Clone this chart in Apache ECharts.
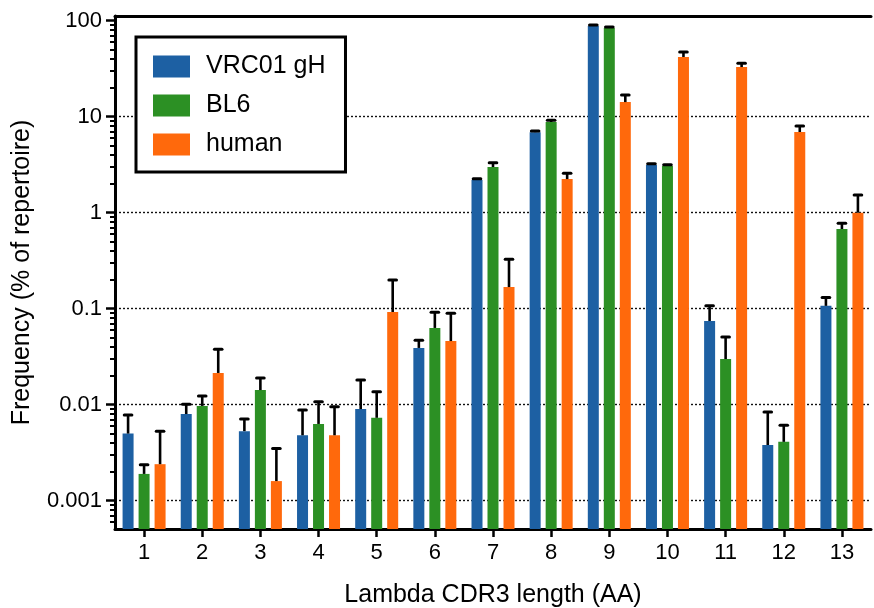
<!DOCTYPE html>
<html>
<head>
<meta charset="utf-8">
<script src="https://cdn.jsdelivr.net/npm/echarts@6/dist/echarts.min.js"></script>
<style>
html,body{margin:0;padding:0;background:#fff;}
#chart{width:874px;height:608px;}
</style>
</head>
<body>
<div id="chart"></div>
<script>
// ---- data ----
const categories = ['1','2','3','4','5','6','7','8','9','10','11','12','13'];
const seriesNames = ['VRC01 gH','BL6','human'];
const vrc01 = [0.0050, 0.0080, 0.0053, 0.0048, 0.0090, 0.039, 2.19, 6.9, 88, 3.14, 0.0745, 0.0038, 0.107];
const vrc01Err = [0.0028, 0.0021, 0.0018, 0.0040, 0.0091, 0.008, 0.07, 0.2, 2, 0.1, 0.0325, 0.0046, 0.024];
const bl6 = [0.0019, 0.0097, 0.0142, 0.0063, 0.0073, 0.063, 2.99, 8.8, 84, 3.07, 0.0299, 0.0041, 0.676];
const bl6Err = [0.00047, 0.0026, 0.0048, 0.0044, 0.0063, 0.029, 0.32, 0.4, 2, 0.08, 0.0208, 0.002, 0.1];
const human = [0.0024, 0.0214, 0.0016, 0.0048, 0.0924, 0.046, 0.168, 2.24, 14.2, 41.9, 32.9, 6.93, 1.0];
const humanErr = [0.0029, 0.0164, 0.0019, 0.0047, 0.107, 0.0436, 0.159, 0.33, 2.6, 5.3, 3.1, 1.07, 0.53];
const majorTickLabels = ['0.001','0.01','0.1','1','10','100'];

// ---- layout / style ----
const yMinLog = -3.295, yMaxLog = 2.049;
const yMin = Math.pow(10, yMinLog), yMax = Math.pow(10, yMaxLog);
const colors = ['#1d60a3', '#2c9024', '#ff690c'];
const barWidth = 11, barGapPx = 5;
const gridLeft = 115, gridRight = 3, chartW = 874;
const fontFamily = '"Liberation Sans", Arial, Helvetica, sans-serif';

const majorLog = majorTickLabels.map(t => Math.log10(parseFloat(t)));
const minorLog = [];
for (let e = -4; e <= 1; e++) {
  for (let k = 2; k <= 9; k++) {
    const v = Math.log10(k) + e;
    if (v > yMinLog && v < yMaxLog) minorLog.push(v);
  }
}

const valueSets = [vrc01, bl6, human];
const errSets = [vrc01Err, bl6Err, humanErr];

const barSeries = valueSets.map((vals, si) => ({
  name: seriesNames[si],
  type: 'bar',
  xAxisIndex: 0,
  yAxisIndex: 0,
  barWidth: barWidth,
  barGap: (barGapPx / barWidth * 100) + '%',
  itemStyle: { color: colors[si] },
  z: 2,
  data: vals
}));

const errSeries = valueSets.map((vals, si) => ({
  type: 'custom',
  xAxisIndex: 0,
  yAxisIndex: 0,
  z: 3,
  silent: true,
  data: vals.map((v, i) => [i, v, v + errSets[si][i]]),
  renderItem: function (params, api) {
    const offset = (si - 1) * (barWidth + barGapPx);
    const p0 = api.coord([api.value(0), api.value(1)]);
    const p1 = api.coord([api.value(0), api.value(2)]);
    const x = p0[0] + offset;
    return {
      type: 'group',
      children: [
        { type: 'line', shape: { x1: x, y1: p0[1], x2: x, y2: p1[1] },
          style: { stroke: '#000', lineWidth: 2.6 } },
        { type: 'line', shape: { x1: x - 3.8, y1: p1[1], x2: x + 3.8, y2: p1[1] },
          style: { stroke: '#000', lineWidth: 3, lineCap: 'round' } }
      ]
    };
  }
}));

const chart = echarts.init(document.getElementById('chart'), null, { renderer: 'canvas' });
chart.setOption({
  animation: false,
  backgroundColor: '#fff',
  textStyle: { fontFamily: fontFamily },
  grid: { left: gridLeft, right: gridRight, top: 16, bottom: 79, containLabel: false, outerBoundsMode: 'none' },
  legend: {
    data: seriesNames,
    orient: 'vertical',
    left: 136,
    top: 37,
    icon: 'rect',
    itemWidth: 37,
    itemHeight: 22,
    itemGap: 14,
    padding: [17, 20, 15, 17],
    borderColor: '#000',
    borderWidth: 3,
    backgroundColor: '#fff',
    textStyle: { fontSize: 25, lineHeight: 22, color: '#000', fontFamily: fontFamily, padding: [0, 0, 0, 11] }
  },
  xAxis: [
    {
      type: 'category',
      data: categories,
      position: 'bottom',
      name: 'Lambda CDR3 length (AA)',
      nameLocation: 'middle',
      nameGap: 54,
      nameTextStyle: { fontSize: 25, color: '#000', fontFamily: fontFamily },
      axisLine: { show: true, onZero: false, lineStyle: { color: '#000', width: 3 } },
      axisTick: { show: true, alignWithLabel: true, length: 8, lineStyle: { color: '#000', width: 2.5 } },
      axisLabel: { fontSize: 22, color: '#000', margin: 13, fontFamily: fontFamily },
      splitLine: { show: false }
    },
    {
      type: 'category',
      data: categories,
      position: 'top',
      axisLine: { show: true, onZero: false, lineStyle: { color: '#000', width: 3 } },
      axisTick: { show: false },
      axisLabel: { show: false },
      splitLine: { show: false }
    }
  ],
  yAxis: [
    {
      type: 'log',
      logBase: 10,
      min: yMin,
      max: yMax,
      startValue: yMin,
      show: false,
      splitLine: { show: false }
    },
    {
      type: 'value',
      min: yMinLog,
      max: yMaxLog,
      position: 'left',
      name: 'Frequency (% of repertoire)',
      nameLocation: 'middle',
      nameGap: 80,
      nameRotate: 90,
      nameTextStyle: { fontSize: 25, color: '#000', fontFamily: fontFamily },
      axisLine: { show: true, onZero: false, lineStyle: { color: '#000', width: 3 } },
      axisTick: { show: true, customValues: majorLog, length: 9, lineStyle: { color: '#000', width: 2.5 } },
      axisLabel: {
        show: true, customValues: majorLog, fontSize: 22, color: '#000', margin: 13, fontFamily: fontFamily,
        formatter: function (v) { return majorTickLabels[Math.round(v) + 3]; }
      },
      splitLine: {
        show: true,
        lineStyle: { color: ['#111','#111','#111','#111','#111','rgba(0,0,0,0)'], type: [2, 2], width: 1.4 }
      }
    },
    {
      type: 'value',
      min: yMinLog,
      max: yMaxLog,
      position: 'right',
      offset: -(chartW - gridLeft - gridRight),
      axisLine: { show: false, onZero: false },
      axisTick: { show: true, inside: true, customValues: minorLog, length: 5, lineStyle: { color: '#000', width: 2 } },
      axisLabel: { show: false },
      splitLine: { show: false }
    }
  ],
  series: barSeries.concat(errSeries)
});
</script>
</body>
</html>
